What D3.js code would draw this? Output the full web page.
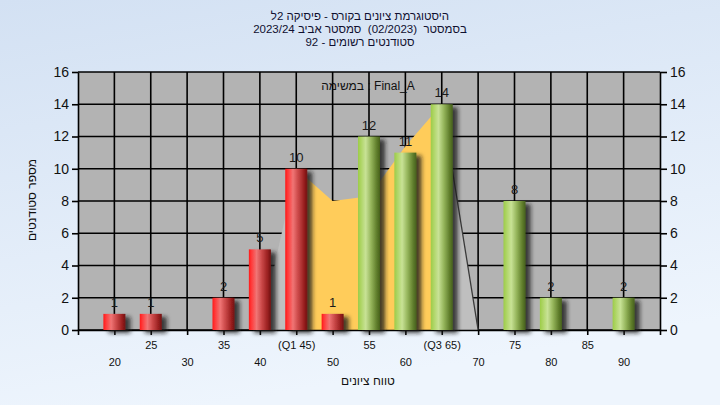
<!DOCTYPE html>
<html><head><meta charset="utf-8">
<script src="https://cdn.jsdelivr.net/npm/d3@7"></script>
<style>html,body{margin:0;padding:0;overflow:hidden;background:#fff}svg{display:block}</style>
</head><body><svg id="c" width="720" height="405"></svg>
<script>
// ---- data ----
const categories = [20,25,30,35,40,45,50,55,60,65,70,75,80,85,90];
const counts     = [1,1,0,2,5,10,1,12,11,14,0,8,2,0,2];
const xTickLabels = ["20","25","30","35","40","(Q1 45)","50","55","60","(Q3 65)","70","75","80","85","90"];
const yTicks = [0,2,4,6,8,10,12,14,16];
const areaScores = [40,45,50,55,60,65,70];
const areaValues = [0,10,8,8.3,11.4,14,0];
const q1 = 45, q3 = 65;
const passScore = 55;
const titleLines = [
  "היסטוגרמת ציונים בקורס - פיסיקה 2ל",
  "בסמסטר  (02/2023)  סמסטר אביב 2023/24",
  "סטודנטים רשומים - 92"
];
const taskLabel = "במשימה : Final_A";
const yTitle = "מספר סטודנטים";
const xTitle = "טווח ציונים";

// ---- drawing ----
const svg = d3.select("#c");
const W = 720, H = 405;
const FONT = "'Liberation Sans', Arial, sans-serif";
const NFONT = "'Liberation Sans Narrow', 'Liberation Sans', Arial, sans-serif";
const x = d3.scaleLinear().domain([15,95]).range([78,660]);
const y = d3.scaleLinear().domain([0,16]).range([330,72]);

const defs = svg.append("defs");
const bg = defs.append("linearGradient").attr("id","bg").attr("x1",0).attr("y1",0).attr("x2",0.3).attr("y2",1);
bg.append("stop").attr("offset","0%").attr("stop-color","#d3e1f3");
bg.append("stop").attr("offset","100%").attr("stop-color","#eef5fd");

function barGrad(id, stops){
  const g = defs.append("linearGradient").attr("id",id).attr("x1",0).attr("x2",1).attr("y1",0).attr("y2",0);
  stops.forEach(s=>g.append("stop").attr("offset",s[0]).attr("stop-color",s[1]));
}
barGrad("gRed",[["0%","#ff1818"],["12%","#ff3a3a"],["35%","#f07575"],["60%","#c84646"],["85%","#9a2020"],["100%","#701010"]]);
barGrad("gGreen",[["0%","#9ccc48"],["12%","#acd462"],["35%","#c8e296"],["60%","#94b45a"],["85%","#607e2c"],["100%","#46601c"]]);

const f = defs.append("filter").attr("id","shadow").attr("x","-30%").attr("y","-10%").attr("width","180%").attr("height","130%");
f.append("feDropShadow").attr("dx",5).attr("dy",3).attr("stdDeviation",2.2).attr("flood-color","#1e1e1e").attr("flood-opacity",0.8);

svg.append("rect").attr("width",W).attr("height",H).attr("fill","url(#bg)");

// plot background
svg.append("rect").attr("x",x(15)).attr("y",y(16)).attr("width",x(95)-x(15)).attr("height",y(0)-y(16)).attr("fill","#b3b3b3");

// grid
const grid = svg.append("g").attr("stroke","#000").attr("stroke-width",1.6);
grid.selectAll(".h").data(yTicks).join("line").attr("x1",x(15)).attr("x2",x(95)).attr("y1",d=>y(d)).attr("y2",d=>y(d));
grid.selectAll(".v").data(categories).join("line").attr("x1",d=>x(d)).attr("x2",d=>x(d)).attr("y1",y(16)).attr("y2",y(0));

// quartile area
const pts = areaScores.map((s,i)=>({s, v: areaValues[i]}));
const area = d3.area().x(d=>x(d.s)).y0(y(0)).y1(d=>y(d.v));
const seg = (a,b)=>pts.filter(d=>d.s>=a && d.s<=b);
svg.append("path").attr("d",area(seg(areaScores[0],q1))).attr("fill","#bfbfbf");
svg.append("path").attr("d",area(seg(q1,q3))).attr("fill","#ffcc5a");
svg.append("path").attr("d",area(seg(q3,areaScores[areaScores.length-1]))).attr("fill","#bfbfbf");
svg.append("path").attr("d",d3.line().x(d=>x(d.s)).y(d=>y(d.v))(seg(q3,areaScores[areaScores.length-1])))
  .attr("fill","none").attr("stroke","#3a3a3a").attr("stroke-width",1.3);

// axes
const axL = svg.append("g").attr("transform",`translate(${x(15)},0)`)
  .call(d3.axisLeft(y).tickValues(yTicks).tickSize(6).tickSizeOuter(0).tickPadding(3));
const axR = svg.append("g").attr("transform",`translate(${x(95)},0)`)
  .call(d3.axisRight(y).tickValues(yTicks).tickSize(7).tickSizeOuter(0).tickPadding(3));
[axL,axR].forEach(a=>{
  a.selectAll("text").attr("font-family",NFONT).attr("font-size",14).attr("fill","#111");
  a.selectAll("line,path").attr("stroke","#000").attr("stroke-width",1.6);
});
const axB = svg.append("g").attr("transform",`translate(0,${y(0)})`)
  .call(d3.axisBottom(x).tickValues(categories).tickSize(5).tickSizeOuter(5).tickFormat((d,i)=>xTickLabels[i]));
axB.selectAll("line,path").attr("stroke","#000").attr("stroke-width",1.6);
axB.selectAll("text").attr("font-family",FONT).attr("font-size",11).attr("fill","#111")
  .attr("dy",null).attr("y",(d,i)=> i%2===1 ? 19 : 36);

// bars
const bars = svg.append("g").attr("filter","url(#shadow)");
const data = categories.map((c,i)=>({c, v: counts[i]})).filter(d=>d.v>0);
bars.selectAll("rect").data(data).join("rect")
  .attr("x",d=>x(d.c)-11).attr("width",22)
  .attr("y",d=>y(d.v)).attr("height",d=>y(0)-y(d.v))
  .attr("fill",d=>d.c<passScore?"url(#gRed)":"url(#gGreen)");

svg.append("g").selectAll("text").data(data).join("text")
  .attr("x",d=>x(d.c)).attr("y",d=>y(d.v)-7).attr("text-anchor","middle")
  .attr("font-family",NFONT).attr("font-size",13).attr("fill","#1a1a1a").text(d=>d.v);

// task label
svg.append("text").attr("x",368).attr("y",90).attr("text-anchor","middle").attr("direction","ltr")
  .attr("font-family",FONT).attr("font-size",12).attr("fill","#111").text(taskLabel);

// titles (right-to-left lines)
const titleY = [20,33,46];
svg.append("g").selectAll("text").data(titleLines).join("text")
  .attr("x",360).attr("y",(d,i)=>titleY[i]).attr("text-anchor","middle")
  .attr("direction","rtl").style("direction","rtl").style("white-space","pre")
  .attr("font-family",FONT).attr("font-size",11.5).attr("fill","#101030").text(d=>d);

// axis titles
svg.append("text").attr("transform","translate(36,200) rotate(-90)").attr("text-anchor","middle")
  .attr("font-family",FONT).attr("font-size",12).attr("fill","#111").text(yTitle);
svg.append("text").attr("x",368).attr("y",385).attr("text-anchor","middle")
  .attr("font-family",FONT).attr("font-size",12).attr("fill","#111").text(xTitle);
</script></body></html>
